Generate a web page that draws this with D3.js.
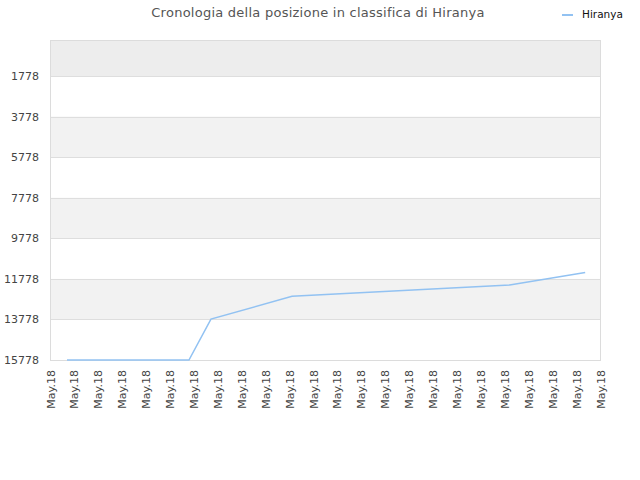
<!DOCTYPE html>
<html><head><meta charset="utf-8">
<script src="https://cdn.jsdelivr.net/npm/d3@7"></script>
<style>body{margin:0;background:#fff}svg{display:block}</style>
</head><body>
<svg id="c" width="640" height="480"></svg>
<script>
const title = "Cronologia della posizione in classifica di Hiranya";
const seriesName = "Hiranya";
const tickLabels = Array.from({length:24}, () => "May.18");
const yTicks = [1778, 3778, 5778, 7778, 9778, 11778, 13778, 15778];
// x in tick-index units, y = rank
const pointX = [0.69, 5.79, 6.71, 10.10, 19.20, 22.36];
const pointRank = [15778, 15778, 13760, 12640, 12080, 11460];

const svg = d3.select("#c");
const L = 50.5, R = 600.5, T = 40, B = 360;
const x = d3.scaleLinear().domain([0, 23]).range([L, R]);
const y = d3.scaleLinear().domain([0, 15778]).range([T, B]);

// bands
const bandEdges = [0].concat(yTicks);
for (let i = 0; i < bandEdges.length - 1; i++) {
  let fill = null;
  if (i === 0) fill = "#ededed";
  else if (i % 2 === 0) fill = "#f2f2f2";
  if (fill) svg.append("rect").attr("x", L).attr("width", R - L)
    .attr("y", y(bandEdges[i])).attr("height", y(bandEdges[i+1]) - y(bandEdges[i]))
    .attr("fill", fill);
}
// gridlines
svg.append("g").selectAll("line").data(yTicks).join("line")
  .attr("x1", L).attr("x2", R)
  .attr("y1", d => Math.round(y(d)) + 0.5).attr("y2", d => Math.round(y(d)) + 0.5)
  .attr("stroke", "#dedede").attr("stroke-width", 1);
// border
svg.append("rect").attr("x", L).attr("y", T + 0.5).attr("width", R - L).attr("height", B - T)
  .attr("fill", "none").attr("stroke", "#dcdcdc");

// y axis labels
svg.append("g").selectAll("text").data(yTicks).join("text")
  .attr("x", 39).attr("y", d => y(d) + 4)
  .attr("text-anchor", "end").attr("font-family", "DejaVu Sans").attr("font-size", 11)
  .attr("fill", "#444").text(d => d);

// x labels
svg.append("g").selectAll("text").data(tickLabels).join("text")
  .attr("transform", (d, i) => `translate(${x(i) + 4},370) rotate(-90)`)
  .attr("text-anchor", "end").attr("font-family", "DejaVu Sans").attr("font-size", 11)
  .attr("fill", "#444").text(d => d);

// line
const pts = pointX.map((v, i) => [v, pointRank[i]]);
svg.append("path").datum(pts)
  .attr("d", d3.line().x(d => x(d[0])).y(d => y(d[1])))
  .attr("fill", "none").attr("stroke", "#92c2f2").attr("stroke-width", 1.5);

// title
svg.append("text").attr("x", 318).attr("y", 17).attr("text-anchor", "middle")
  .attr("font-family", "DejaVu Sans").attr("font-size", 13).attr("letter-spacing", 0.25)
  .attr("fill", "#555").text(title);

// legend
svg.append("line").attr("x1", 562).attr("x2", 573).attr("y1", 15).attr("y2", 15)
  .attr("stroke", "#92c2f2").attr("stroke-width", 2);
svg.append("text").attr("x", 582).attr("y", 18).attr("font-family", "DejaVu Sans")
  .attr("font-size", 10.5).attr("fill", "#111").text(seriesName);
</script>
</body></html>
